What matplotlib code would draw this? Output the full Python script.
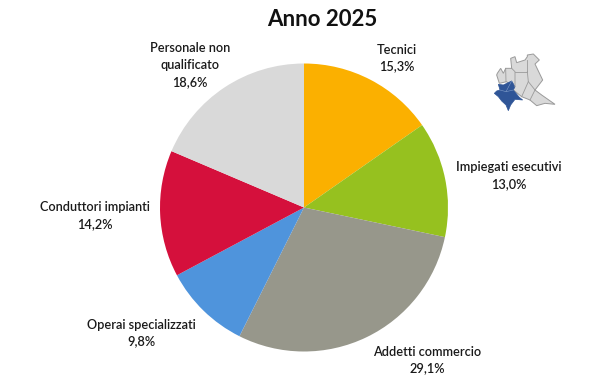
import matplotlib
matplotlib.use("Agg")
import matplotlib.pyplot as plt
from matplotlib.patches import Polygon

# Data
labels = ["Tecnici", "Impiegati esecutivi", "Addetti commercio", "Operai specializzati",
          "Conduttori impianti", "Personale non\nqualificato"]
values = [15.3, 13.0, 29.1, 9.8, 14.2, 18.6]
colors = ["#FBB000", "#96C11F", "#97978B", "#4F94DC", "#D5103C", "#D9D9D9"]
# label centre in figure pixels, from the reference
label_pos = [(397, 58), (509, 175.5), (427.5, 360), (141, 333), (95, 215.5), (190, 65)]

# Small map outline, in pixels of the zoomed crop
region = [(82, 100), (92, 85), (100, 100), (107, 85), (125, 85), (122, 55), (135, 50),
          (140, 68), (165, 60), (172, 50), (172, 45), (190, 42), (208, 60), (195, 72),
          (218, 120), (195, 150), (215, 165), (255, 193), (225, 190), (200, 197),
          (180, 180), (155, 170), (130, 150), (110, 125), (88, 130), (80, 105)]
province = [(85, 133), (100, 135), (125, 123), (135, 140), (130, 150), (148, 172),
            (158, 180), (135, 178), (122, 195), (115, 212), (108, 195), (95, 183),
            (85, 170), (73, 160), (80, 153), (90, 150)]
borders = [[(107, 85), (108, 125)], [(125, 85), (135, 95), (135, 140)],
           [(135, 95), (172, 95), (172, 60)], [(172, 95), (175, 125), (155, 170)],
           [(175, 125), (195, 150)], [(195, 150), (180, 180)]]
province_borders = [[(90, 150), (108, 155), (130, 150)], [(108, 155), (125, 123)]]

W, H = 600, 391
plt.rcParams["font.family"] = ["Lato", "DejaVu Sans"]
fig = plt.figure(figsize=(W / 100, H / 100), dpi=100)

# Pie
cx, cy, r = 304, 207.5, 144
ax = fig.add_axes([(cx - r) / W, 1 - (cy + r) / H, 2 * r / W, 2 * r / H])
ax.pie(values, colors=colors, startangle=90, counterclock=False, radius=1)
ax.set_xlim(-1, 1)
ax.set_ylim(-1, 1)

# Labels
for lab, val, pos in zip(labels, values, label_pos):
    txt = f"{lab}\n{val:.1f}".replace(".", ",") + "%"
    fig.text(pos[0] / W, 1 - pos[1] / H, txt, ha="center", va="center", fontsize=9.2,
             fontweight=600, color="#1a1a1a", linespacing=1.48)

fig.text(322 / W, 1 - 19.5 / H, "Anno 2025", ha="center", va="center", fontsize=16,
         fontweight="bold", color="#111111")

# Map inset
mp = fig.add_axes([470 / W, 1 - 130 / H, 100 / W, 90 / H])
mp.set_xlim(0, 300)
mp.set_ylim(270, 0)
mp.axis("off")
mp.add_patch(Polygon(region, closed=True, fc="#D9D9D9", ec="#9a9a9a", lw=0.7))
for b in borders:
    mp.plot(*zip(*b), color="#9a9a9a", lw=0.6)
mp.add_patch(Polygon(province, closed=True, fc="#2F5597", ec="#2F5597", lw=0.5))
for b in province_borders:
    mp.plot(*zip(*b), color="#7f9cc9", lw=0.4)

fig.savefig("out.png", dpi=100)
